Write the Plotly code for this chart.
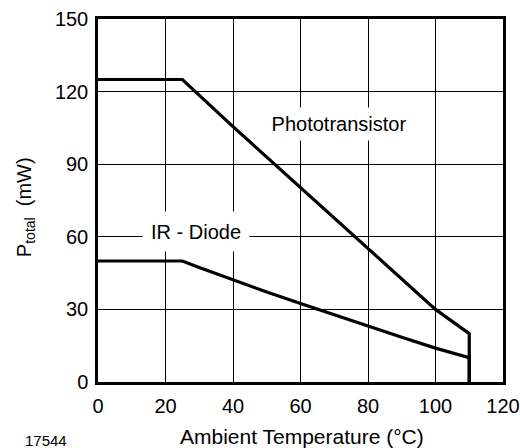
import plotly.graph_objects as go

# Data
photo_x = [0, 25, 40, 60, 80, 100, 110, 110]
photo_y = [125, 125, 105.5, 80.3, 55, 30, 20, 0]

diode_x = [0, 25, 30, 40, 50, 60, 70, 80, 90, 100, 110, 110]
diode_y = [50, 50, 47.3, 42.2, 37.2, 32.4, 27.7, 23.1, 18.5, 14, 10, 0]

x_ticks = [0, 20, 40, 60, 80, 100, 120]
y_ticks = [0, 30, 60, 90, 120, 150]

FONT = "Liberation Sans, Arial, Helvetica, sans-serif"
FS = 20

fig = go.Figure()
fig.add_trace(go.Scatter(x=photo_x, y=photo_y, mode="lines",
                         line=dict(color="black", width=3.2), showlegend=False,
                         name="Phototransistor"))
fig.add_trace(go.Scatter(x=diode_x, y=diode_y, mode="lines",
                         line=dict(color="black", width=3.2), showlegend=False,
                         name="IR - Diode"))

fig.add_annotation(x=71.4, y=106.8, text="Phototransistor", showarrow=False,
                   font=dict(family=FONT, size=FS, color="black"),
                   bgcolor="white", width=156, height=30, borderpad=1)
fig.add_annotation(x=29.1, y=62.3, text="IR - Diode", showarrow=False,
                   font=dict(family=FONT, size=FS, color="black"),
                   bgcolor="white", width=104, height=37, borderpad=1)

# axis titles and figure number
fig.add_annotation(xref="paper", yref="paper", x=0.503, y=-0.1515,
                   xanchor="center", yanchor="middle",
                   text="Ambient Temperature (°C)", showarrow=False,
                   font=dict(family=FONT, size=21, color="black"))
fig.add_annotation(xref="paper", yref="paper", x=-0.180, y=0.482,
                   xanchor="center", yanchor="middle", textangle=-90,
                   text="P<sub>total</sub>  (mW)", showarrow=False,
                   font=dict(family=FONT, size=FS, color="black"))
fig.add_annotation(xref="paper", yref="paper", x=-0.1296, y=-0.16,
                   xanchor="center", yanchor="middle", text="17544",
                   showarrow=False, font=dict(family=FONT, size=15, color="black"))

fig.update_xaxes(range=[0, 120], tickvals=x_ticks, ticks="", showgrid=True,
                 gridcolor="black", gridwidth=1.2, zeroline=False,
                 showline=True, linecolor="black", linewidth=2.5, mirror=True,
                 automargin=False, ticklabelstandoff=4,
                 tickfont=dict(family=FONT, size=FS, color="black"))
fig.update_yaxes(range=[0, 150], tickvals=y_ticks, ticks="", showgrid=True,
                 gridcolor="black", gridwidth=1.2, zeroline=False,
                 showline=True, linecolor="black", linewidth=2.5, mirror=True,
                 automargin=False, ticklabelstandoff=3,
                 tickfont=dict(family=FONT, size=FS, color="black"))

fig.update_layout(width=520, height=448,
                  margin=dict(l=98, r=17, t=19, b=66),
                  plot_bgcolor="white", paper_bgcolor="white",
                  font=dict(family=FONT, color="black"))

fig.write_html("out.html", config={"displayModeBar": False},
               post_script="document.body.style.margin='0';"
                           "document.body.style.overflow='hidden';")
